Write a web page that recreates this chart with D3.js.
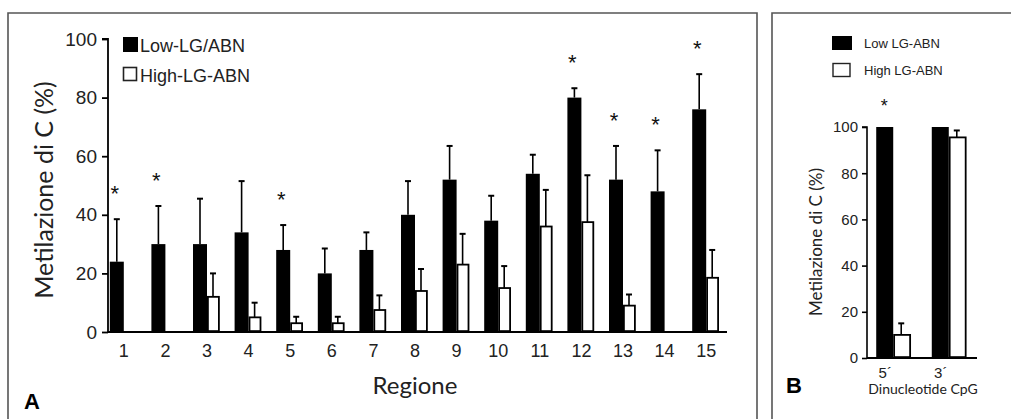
<!DOCTYPE html>
<html>
  <head>
    <meta charset="utf-8">
    <script src="https://d3js.org/d3.v7.min.js"></script>
    <style>
      body { margin: 0; background: #fff; }
      svg { display: block; }
    </style>
  </head>
  <body>
    <div id="chart"></div>
    <script>
      // Panel A data
      var regions = ["1","2","3","4","5","6","7","8","9","10","11","12","13","14","15"];
      var lowA  = [24, 30, 30, 34, 28, 20, 28, 40, 52, 38, 54, 80, 52, 48, 76];
      var lowAErr = [14.5, 13, 15.5, 17.5, 8.5, 8.5, 6, 11.5, 11.5, 8.5, 6.5, 3.2, 11.5, 14, 12];
      var highA = [0, 0, 12, 5, 3, 3, 7.5, 14, 23, 15, 36, 37.5, 9, 0, 18.5];
      var highAErr = [0, 0, 8, 5, 2.2, 2.2, 5, 7.5, 10.5, 7.5, 12.5, 16, 3.8, 0, 9.5];
      var starsA = ["1","2","5","12","13","14","15"];
      var ticksA = [0, 20, 40, 60, 80, 100];

      // Panel B data
      var dinuc = ["5´", "3´"];
      var lowB = [100, 100];
      var highB = [10, 95.5];
      var highBErr = [5, 3];
      var starsB = ["5´"];
      var ticksB = [0, 20, 40, 60, 80, 100];

      var width = 1011, height = 419;
      var sans = "'Liberation Sans', Arial, sans-serif";
      var soft = "Lato, 'Open Sans', sans-serif";

      var svg = d3.select("#chart").append("svg")
        .attr("width", width)
        .attr("height", height);

      // panel frames
      svg.append("path")
        .attr("d", "M8,421V13H757V421")
        .attr("fill", "none").attr("stroke", "#555").attr("stroke-width", 1.6);
      svg.append("path")
        .attr("d", "M772,421V13H1013")
        .attr("fill", "none").attr("stroke", "#555").attr("stroke-width", 1.6);

      function errBar(g, x, y0, y1) {
        g.append("line").attr("x1", x).attr("x2", x).attr("y1", y0).attr("y2", y1)
          .attr("stroke", "#000").attr("stroke-width", 1.6);
        g.append("line").attr("x1", x - 3).attr("x2", x + 3).attr("y1", y1).attr("y2", y1)
          .attr("stroke", "#000").attr("stroke-width", 2);
      }

      // ---------- Panel A ----------
      var xA = d3.scaleBand().domain(regions).range([103, 727]);
      var yA = d3.scaleLinear().domain([0, 100]).range([332, 39]);
      function cA(i) { return xA(regions[i]) + xA.bandwidth() / 2; }

      var gA = svg.append("g");

      // y axis
      var axA = gA.append("g")
        .attr("transform", "translate(108,0)")
        .call(d3.axisLeft(yA).tickValues(ticksA).tickSize(6).tickPadding(5));
      axA.select(".domain").attr("d", "M-6," + yA(100) + "H0V" + yA(0)).attr("stroke-width", 1.8);
      axA.selectAll(".tick line").attr("stroke-width", 1.8);
      axA.selectAll("text").attr("font-family", sans).attr("font-size", 19).attr("fill", "#222");

      // x axis baseline + labels
      gA.append("line")
        .attr("x1", 108).attr("x2", 727)
        .attr("y1", yA(0)).attr("y2", yA(0))
        .attr("stroke", "#000").attr("stroke-width", 1.8);
      gA.selectAll(".xlab").data(regions).enter().append("text")
        .attr("x", function(d) { return xA(d) + xA.bandwidth() / 2; })
        .attr("y", 357)
        .attr("text-anchor", "middle")
        .attr("font-family", sans).attr("font-size", 18).attr("fill", "#222")
        .text(function(d) { return d; });

      // error bars first so bars sit on top
      lowA.forEach(function(v, i) {
        errBar(gA, cA(i) - 7, yA(v), yA(v + lowAErr[i]));
      });
      highA.forEach(function(v, i) {
        if (v > 0) errBar(gA, cA(i) + 6, yA(v), yA(v + highAErr[i]));
      });

      gA.selectAll(".lowA").data(lowA).enter().append("rect")
        .attr("x", function(d, i) { return cA(i) - 14; })
        .attr("y", function(d) { return yA(d); })
        .attr("width", 14)
        .attr("height", function(d) { return yA(0) - yA(d); })
        .attr("fill", "#000");
      highA.forEach(function(v, i) {
        if (v <= 0) return;
        gA.append("rect")
          .attr("x", cA(i) + 0.9)
          .attr("y", yA(v))
          .attr("width", 11)
          .attr("height", yA(0) - yA(v) - 0.9)
          .attr("fill", "#fff").attr("stroke", "#000").attr("stroke-width", 1.8);
      });

      // significance stars
      starsA.forEach(function(r) {
        var i = regions.indexOf(r);
        gA.append("text")
          .attr("x", cA(i) - 9)
          .attr("y", yA(lowA[i] + lowAErr[i]) - 18)
          .attr("text-anchor", "middle")
          .attr("font-family", sans).attr("font-size", 22).attr("fill", "#111")
          .text("*");
      });

      // legend
      var legA = gA.append("g");
      legA.append("rect").attr("x", 123).attr("y", 37).attr("width", 15).attr("height", 15).attr("fill", "#000");
      legA.append("text").attr("x", 140).attr("y", 52).attr("font-family", sans).attr("font-size", 18).attr("fill", "#222").text("Low-LG/ABN");
      legA.append("rect").attr("x", 123.5).attr("y", 67.5).attr("width", 13).attr("height", 13)
        .attr("fill", "#fff").attr("stroke", "#222").attr("stroke-width", 1.6);
      legA.append("text").attr("x", 140).attr("y", 82).attr("font-family", sans).attr("font-size", 18).attr("fill", "#222").text("High-LG-ABN");

      // titles
      gA.append("text")
        .attr("transform", "translate(53,190) rotate(-90)")
        .attr("text-anchor", "middle")
        .attr("font-family", soft).attr("font-size", 25).attr("fill", "#222")
        .text("Metilazione di C (%)");
      gA.append("text")
        .attr("x", 415).attr("y", 394)
        .attr("text-anchor", "middle")
        .attr("font-family", soft).attr("font-size", 24).attr("fill", "#222")
        .text("Regione");
      gA.append("text")
        .attr("x", 24).attr("y", 409)
        .attr("font-family", sans).attr("font-weight", "bold").attr("font-size", 22)
        .text("A");

      // ---------- Panel B ----------
      var xB = d3.scaleBand().domain(dinuc).range([866, 976]).paddingOuter(0.05).paddingInner(0.12);
      var yB = d3.scaleLinear().domain([0, 100]).range([358, 127]);
      function cB(i) { return xB(dinuc[i]) + xB.bandwidth() / 2; }
      var gB = svg.append("g");

      var axB = gB.append("g")
        .attr("transform", "translate(867,0)")
        .call(d3.axisLeft(yB).tickValues(ticksB).tickSize(5).tickPadding(4));
      axB.select(".domain").attr("d", "M-5," + yB(100) + "H0V" + yB(0)).attr("stroke-width", 1.6);
      axB.selectAll(".tick line").attr("stroke-width", 1.6);
      axB.selectAll("text").attr("font-family", sans).attr("font-size", 15).attr("fill", "#222");

      gB.append("line")
        .attr("x1", 867).attr("x2", 977)
        .attr("y1", yB(0)).attr("y2", yB(0))
        .attr("stroke", "#000").attr("stroke-width", 1.8);

      highB.forEach(function(v, i) {
        errBar(gB, cB(i) + 8, yB(v), yB(v + highBErr[i]));
      });
      lowB.forEach(function(v, i) {
        gB.append("rect")
          .attr("x", cB(i) - 17).attr("y", yB(v))
          .attr("width", 17).attr("height", yB(0) - yB(v))
          .attr("fill", "#000");
      });
      highB.forEach(function(v, i) {
        gB.append("rect")
          .attr("x", cB(i) + 0.9).attr("y", yB(v))
          .attr("width", 16).attr("height", yB(0) - yB(v) - 0.9)
          .attr("fill", "#fff").attr("stroke", "#000").attr("stroke-width", 1.8);
      });
      dinuc.forEach(function(d, i) {
        gB.append("text")
          .attr("x", cB(i) - 8).attr("y", 378)
          .attr("text-anchor", "middle")
          .attr("font-family", sans).attr("font-size", 15).attr("fill", "#222")
          .text(d);
      });
      starsB.forEach(function(d) {
        var i = dinuc.indexOf(d);
        gB.append("text")
          .attr("x", cB(i) - 9).attr("y", 112)
          .attr("text-anchor", "middle")
          .attr("font-family", sans).attr("font-size", 18).attr("fill", "#111")
          .text("*");
      });

      var legB = gB.append("g");
      legB.append("rect").attr("x", 832).attr("y", 36).attr("width", 20).attr("height", 14).attr("fill", "#000");
      legB.append("text").attr("x", 864).attr("y", 48).attr("font-family", sans).attr("font-size", 13).attr("fill", "#222").text("Low LG-ABN");
      legB.append("rect").attr("x", 833).attr("y", 63.5).attr("width", 17).attr("height", 13)
        .attr("fill", "#fff").attr("stroke", "#222").attr("stroke-width", 1.4);
      legB.append("text").attr("x", 864).attr("y", 75).attr("font-family", sans).attr("font-size", 13).attr("fill", "#222").text("High LG-ABN");

      gB.append("text")
        .attr("transform", "translate(822,242) rotate(-90)")
        .attr("text-anchor", "middle")
        .attr("font-family", soft).attr("font-size", 17).attr("fill", "#222")
        .text("Metilazione di C (%)");
      gB.append("text")
        .attr("x", 923).attr("y", 394)
        .attr("text-anchor", "middle")
        .attr("font-family", soft).attr("font-size", 14).attr("fill", "#222")
        .text("Dinucleotide CpG");
      gB.append("text")
        .attr("x", 786).attr("y", 393)
        .attr("font-family", sans).attr("font-weight", "bold").attr("font-size", 22)
        .text("B");
    </script>
  </body>
</html>
